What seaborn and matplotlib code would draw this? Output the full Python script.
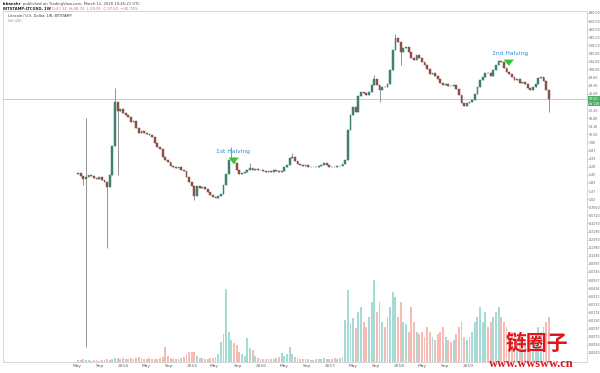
import numpy as np
import pandas as pd
import matplotlib
matplotlib.use("Agg")
import matplotlib.pyplot as plt
import matplotlib.dates as mdates
from matplotlib.ticker import NullLocator
import seaborn as sns

# ---------------- data ----------------
candle_start = "2013-05-08"          # bi-weekly candles
candle_step_days = 14
first_open = 2.5

closes = [
    2.6, 2.35, 2.1, 2.27, 2.45, 2.35, 2.2, 2.1, 2.27, 2.0,
    1.9, 1.6, 2.4, 7.0, 34, 24, 26, 23, 21, 19.6,
    16.4, 16.8, 13.2, 11, 11.8, 11, 10.7, 10.4, 9.6, 7.7,
    6.7, 6.2, 4.65, 4.2, 3.9, 3.4, 3.25, 3.14, 3.2, 2.9,
    2.8, 2.27, 1.9, 1.65, 1.15, 1.65, 1.53, 1.58, 1.48, 1.32,
    1.19, 1.1, 1.07, 1.15, 1.23, 1.7, 2.5, 4.2, 4.5, 3.75,
    2.9, 2.5, 2.6, 2.7, 2.9, 3.14, 2.9, 3.0, 2.9, 2.95,
    2.8, 2.7, 2.8, 2.75, 2.9, 2.8, 2.7, 2.8, 3.25, 3.5,
    4.5, 4.65, 4.0, 3.6, 3.5, 3.4, 3.45, 3.25, 3.3, 3.25,
    3.2, 3.4, 3.5, 3.75, 3.5, 3.25, 3.3, 3.2, 3.4, 3.35,
    3.6, 4.2, 12.3, 21, 28, 23.5, 41.5, 48, 46.5, 43,
    48, 62, 77, 62, 52, 58, 57, 64, 107, 219,
    335, 295, 204, 236, 244, 204, 165, 153, 184, 165,
    142, 128, 110, 92, 94, 86, 77, 67, 62, 64,
    60, 59, 62, 54, 43, 32.4, 29, 32.4, 33.6, 36,
    45, 58, 74.5, 83, 96, 95, 86, 107, 128, 147,
    142, 114, 99, 92, 83, 74.5, 77, 67, 69, 64,
    56, 52, 58, 64, 80, 83, 72, 52, 37.5,
]
# candles whose wicks reach beyond the body (index -> price)
wick_highs = {3: 19.0, 14: 56.0, 58: 6.7, 65: 3.75, 81: 5.4, 112: 89.0, 120: 395.0, 159: 155.0}
wick_lows = {2: 1.7, 3: 0.005, 11: 0.175, 15: 2.45, 44: 1.0, 114: 33.6, 122: 128.0, 178: 23.5}

volumes = [  # volume, 10k LTC
    2, 2, 3, 2, 2, 1, 2, 2, 1, 2, 2, 3, 2, 3, 4, 4, 3, 4, 3, 3, 4, 3, 4, 5, 4, 3, 3, 4, 3, 3, 3, 4, 5,
    15, 6, 4, 3, 3, 3, 4, 5, 8, 10, 10, 10,
    6, 4, 4, 3, 3, 4, 4, 5, 8, 20, 28,
    73, 30, 22, 19, 17, 10, 8, 6, 24, 14, 12,
    6, 4, 3, 3, 3, 3, 3, 3, 4, 5, 9,
    6, 8, 15, 8, 5, 4, 3, 3, 3, 3, 2,
    2, 3, 3, 3, 4, 3, 3, 3, 4, 3, 4, 5,
    42, 72, 39, 44, 34, 50, 55, 40, 35, 45, 60,
    82, 50, 60, 40, 35, 45, 55, 70, 65, 45, 60,
    40, 38, 30, 55, 40, 30, 28, 30, 25, 35, 30,
    25, 22, 28, 30, 35, 25, 22, 20, 22, 28, 35,
    40, 25, 22, 25, 30, 40, 45, 55, 40, 50, 35,
    40, 45, 50, 55, 45, 40, 35, 30, 30, 25, 22,
    25, 22, 20, 28, 25, 22, 25, 35, 30, 35, 40, 45,
]

time_tick_dates = ["2013-05-01", "2013-09-01", "2014-01-01", "2014-05-01", "2014-09-01",
                   "2015-01-01", "2015-05-01", "2015-09-01", "2016-01-01", "2016-05-01",
                   "2016-09-01", "2017-01-01", "2017-05-01", "2017-09-01", "2018-01-01",
                   "2018-05-01", "2018-09-01", "2019-01-01"]
time_tick_labels = ["May", "Sep", "2014", "May", "Sep", "2015", "May", "Sep", "2016", "May",
                    "Sep", "2017", "May", "Sep", "2018", "May", "Sep", "2019"]

price_ticks = [830, 620, 460, 345, 258, 193, 144, 108, 80.6, 60.3, 45.0, 25.2, 18.8, 14.1,
               10.5, 7.86, 5.87, 4.39, 3.28, 2.45, 1.83, 1.37, 1.02, 0.765, 0.572, 0.427,
               0.319, 0.239, 0.178, 0.133, 0.0997, 0.0745, 0.0557, 0.0416, 0.0311, 0.0232,
               0.0174, 0.0130, 0.0097, 0.00725, 0.00542, 0.00405]

halvings = [("1st Halving", "2015-08-04", 5.6, "2015-08-10", 4.9, 3.3),
            ("2nd Halving", "2019-08-12", 190, "2019-08-05", 165, 112)]

# ---------------- derived ----------------
n = len(closes)
dates = pd.date_range(candle_start, periods=n, freq=f"{candle_step_days}D")
x = mdates.date2num(dates)
c = np.array(closes, dtype=float)
o = np.array([first_open] + closes[:-1], dtype=float)
up = c >= o
body_lo = np.minimum(o, c)
body_hi = np.maximum(o, c)
highs = body_hi.copy()
lows = body_lo.copy()
for k, v in wick_highs.items():
    highs[k] = v
for k, v in wick_lows.items():
    lows[k] = v

UP_C, DN_C = "#3f806f", "#8f5046"
body_colors = np.where(up, UP_C, DN_C)

# ---------------- plot ----------------
sns.set_theme(style="white")
plt.rcParams["font.family"] = ["DejaVu Sans", "Noto Sans CJK SC"]

fig = plt.figure(figsize=(6, 3.73), dpi=100)
ax = fig.add_axes([3 / 600, 11 / 373, 584 / 600, 351 / 373])
vol_ax = ax.twinx()

vol_df = pd.DataFrame({"t": x, "vol": volumes, "dir": np.where(up, "up", "down")})
sns.barplot(data=vol_df, x="t", y="vol", hue="dir",
            palette={"up": "#a6dbd5", "down": "#f5bcb5"},
            native_scale=True, dodge=False, legend=False, errorbar=None,
            width=0.7, saturation=1, linewidth=0, ax=vol_ax)
vol_ax.set_ylim(0, max(volumes) * 4.3)
vol_ax.set_yticks([])
vol_ax.set_ylabel("")
vol_ax.set_xlabel("")
for s in vol_ax.spines.values():
    s.set_visible(False)

ax.set_zorder(vol_ax.get_zorder() + 1)
ax.patch.set_visible(False)
ax.set_yscale("log")

ax.axhline(closes[-1], color="#c4c4c4", lw=0.6, zorder=0.5)
ax.vlines(x, lows, highs, color="#6a6a6a", lw=0.5, zorder=2)
ax.bar(x, body_hi - body_lo, bottom=body_lo, width=9.5, color=body_colors,
       edgecolor=body_colors, linewidth=0.35, zorder=3)

ax.set_ylim(0.00292, 889)
ax.set_xlim(mdates.date2num(pd.Timestamp("2012-04-06")),
            mdates.date2num(pd.Timestamp("2020-09-22")))

# axes / ticks
narrow = ["Liberation Sans Narrow", "DejaVu Sans"]
ax.yaxis.tick_right()
ax.yaxis.set_minor_locator(NullLocator())
ax.set_yticks(price_ticks)
ax.set_yticklabels([f"{p:.2f}" if p >= 1 else f"{p:.4f}" for p in price_ticks])
for lab in ax.get_yticklabels():
    lab.set_family(narrow)
ax.tick_params(axis="y", labelsize=2.3, colors="#606060", length=1.0, width=0.4, pad=0.4,
               right=True, left=False)
ax.set_xticks(mdates.date2num(pd.to_datetime(time_tick_dates)))
ax.set_xticklabels(time_tick_labels)
ax.tick_params(axis="x", labelsize=3.2, colors="#606060", length=0, pad=1.6)
ax.set_xlabel("")
ax.set_ylabel("")
for s in ax.spines.values():
    s.set_color("#cfcfcf")
    s.set_linewidth(0.6)

# last-price label
ax.annotate("37.50\n2d 11h", xy=(1.0, closes[-1]), xycoords=ax.get_yaxis_transform(),
            xytext=(1.0, -1.6), textcoords="offset points",
            fontsize=2.3, color="white", va="center", ha="left", linespacing=1.3,
            family=narrow,
            bbox=dict(boxstyle="square,pad=0.25", fc="#4fae6a", ec="none"),
            annotation_clip=False)

# halving annotations
for label, tdate, ty, adate, a_tail, a_tip in halvings:
    ax.text(mdates.date2num(pd.Timestamp(tdate)), ty, label, fontsize=4.3,
            color="#2a8bd8", ha="center", va="center", zorder=5)
    ax.annotate("", xy=(mdates.date2num(pd.Timestamp(adate)), a_tip),
                xytext=(mdates.date2num(pd.Timestamp(adate)), a_tail),
                arrowprops=dict(arrowstyle="simple,head_length=0.45,head_width=0.75,tail_width=0.35",
                                color="#2fc83a", lw=0, mutation_scale=10), zorder=5)

# legend texts inside the panel
ax.text(0.008, 0.986, "Litecoin / U.S. Dollar, 1W, BITSTAMP", transform=ax.transAxes,
        fontsize=2.5, color="#333333", va="center", ha="left")
ax.text(0.008, 0.971, "Vol (20)", transform=ax.transAxes,
        fontsize=2.5, color="#888888", va="center", ha="left")

# header (second piece of each line placed right after the first)
renderer = fig.canvas.get_renderer()


def header_line(y_px, first, rest, rest_color):
    t1 = fig.text(3 / 600, 1 - y_px / 373, first, fontsize=2.7, weight="bold",
                  color="#222222", va="center", ha="left")
    bb = t1.get_window_extent(renderer=renderer)
    fig.text((bb.x1 + 1.5) / 600, 1 - y_px / 373, rest, fontsize=2.7, color=rest_color,
             va="center", ha="left")


header_line(4, "Ishanshr", "published on TradingView.com, March 12, 2020 10:45:21 UTC", "#444444")
header_line(9, "BITSTAMP:LTCUSD, 1W",
            "O:47.31  H:48.74  L:29.95  C:37.50  \u221220.74%",
            "#e0615a")

# watermark
fig.text(537 / 600, 1 - 343 / 373, "链圈子", fontsize=15, color="#e3141c", weight="bold",
         family=["Noto Sans CJK SC", "DejaVu Sans"], ha="center", va="center")
fig.text(531 / 600, 1 - 364 / 373, "www.wwsww.cn", fontsize=9, color="#e3141c", weight="bold",
         family=["Liberation Serif", "DejaVu Serif"], ha="center", va="center")

fig.savefig("out.png", dpi=100)
